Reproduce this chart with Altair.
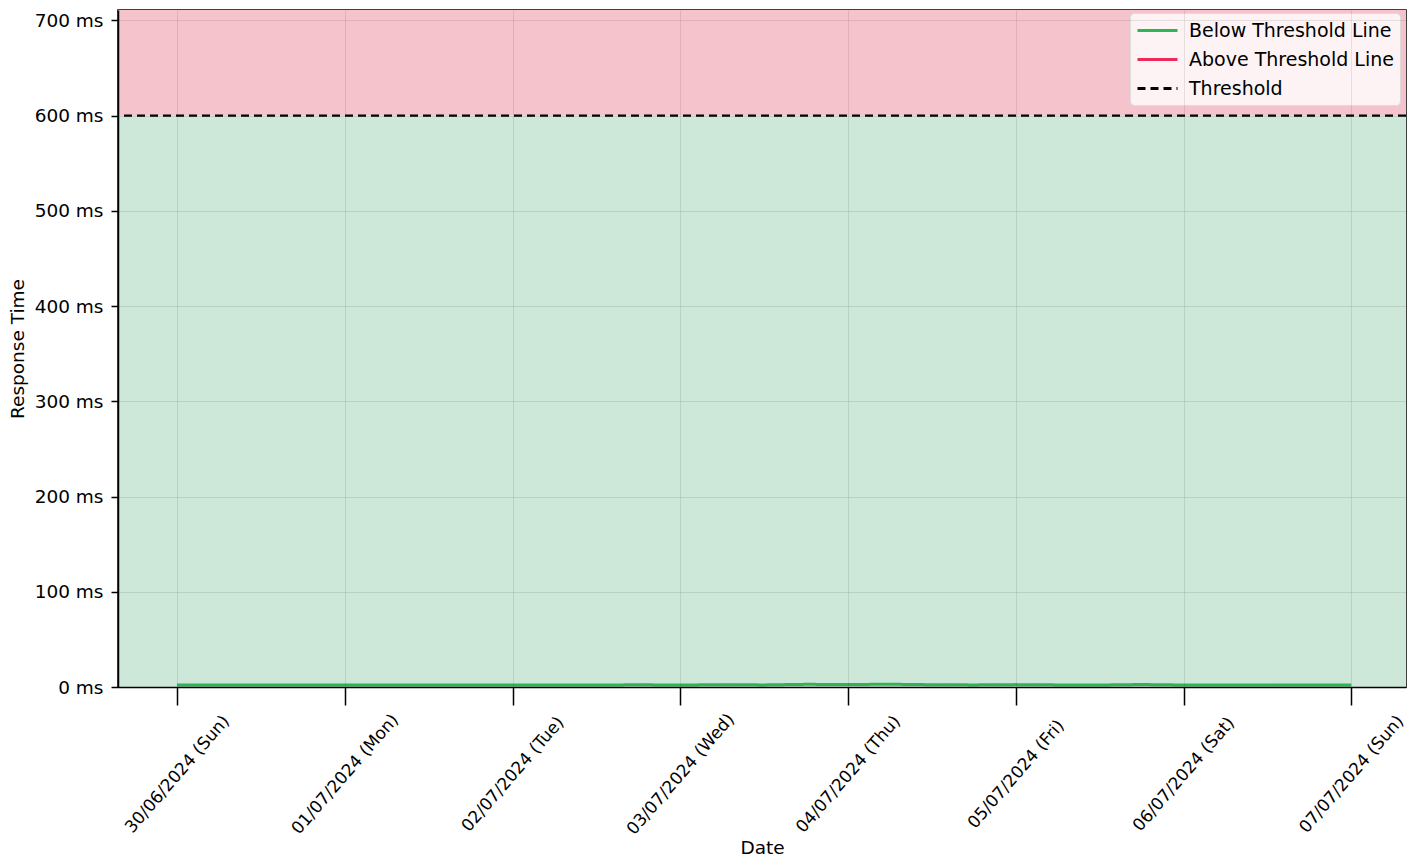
import altair as alt
import pandas as pd

# ---- data ----
times = [
    "2024-06-30T00:00", "2024-06-30T06:00", "2024-06-30T12:00", "2024-06-30T18:00",
    "2024-07-01T00:00", "2024-07-01T06:00", "2024-07-01T12:00", "2024-07-01T18:00",
    "2024-07-02T00:00", "2024-07-02T06:00", "2024-07-02T12:00", "2024-07-02T18:00",
    "2024-07-03T00:00", "2024-07-03T06:00", "2024-07-03T12:00", "2024-07-03T18:00",
    "2024-07-04T00:00", "2024-07-04T06:00", "2024-07-04T12:00", "2024-07-04T18:00",
    "2024-07-05T00:00", "2024-07-05T06:00", "2024-07-05T12:00", "2024-07-05T18:00",
    "2024-07-06T00:00", "2024-07-06T06:00", "2024-07-06T12:00", "2024-07-06T18:00",
    "2024-07-07T00:00",
]
response_ms = [
    2.0, 2.1, 2.0, 2.2,
    2.0, 2.1, 2.0, 2.1,
    2.0, 2.2, 2.1, 2.3,
    2.1, 2.4, 2.2, 2.8,
    2.6, 2.9, 2.4, 2.2,
    2.5, 2.2, 2.1, 2.6,
    2.1, 2.2, 2.0, 2.1,
    2.0,
]
threshold_ms = 600
y_max_ms = 711
y_ticks = [0, 100, 200, 300, 400, 500, 600, 700]
series_names = ["Below Threshold Line", "Above Threshold Line", "Threshold"]
series_colors = ["#2db553", "#ee2a5a", "#000000"]

line_df = pd.DataFrame({"time": times, "ms": response_ms, "series": series_names[0]})
thr_df = pd.DataFrame({"ms": [threshold_ms], "series": [series_names[2]]})
below_df = pd.DataFrame({"lo": [0], "hi": [threshold_ms]})
above_df = pd.DataFrame({"lo": [threshold_ms], "hi": [y_max_ms]})

FONT = "DejaVu Sans"
day_ticks = [alt.DateTime(year=2024, month=6, date=30)] + [
    alt.DateTime(year=2024, month=7, date=d) for d in range(1, 8)
]
x_scale = alt.Scale(domain=[
    alt.DateTime(year=2024, month=6, date=29, hours=15, minutes=33),
    alt.DateTime(year=2024, month=7, date=7, hours=7, minutes=50),
])
y_scale = alt.Scale(domain=[0, y_max_ms], nice=False, zero=False)

color_scale = alt.Scale(domain=series_names, range=series_colors)
dash_scale = alt.Scale(domain=series_names, range=[[1, 0], [1, 0], [8, 5]])

x_axis = alt.Axis(
    values=day_ticks, format="%d/%m/%Y (%a)", labelAngle=-49, labelAlign="center",
    labelBaseline="middle", tickSize=18, labelPadding=69, labelFontSize=17,
    title="Date", titlePadding=1, zindex=1, labelFlush=False, labelOverlap=False,
)
y_axis = alt.Axis(
    values=y_ticks, labelExpr="datum.value + ' ms'", tickSize=7, labelPadding=8,
    title="Response Time", titlePadding=7, zindex=1,
)

below = alt.Chart(below_df).mark_rect(color="#cde7d8", opacity=1).encode(
    y=alt.Y("lo:Q", scale=y_scale, axis=y_axis),
    y2="hi:Q",
)
above = alt.Chart(above_df).mark_rect(color="#f5c3cb", opacity=1).encode(
    y=alt.Y("lo:Q", scale=y_scale),
    y2="hi:Q",
)

legend = alt.Legend(
    title=None, orient="none", legendX=1012, legendY=3, symbolType="M-1,0H3",
    symbolStrokeWidth=3, symbolSize=400, labelFontSize=19, labelFont=FONT,
    labelLimit=0, fillColor="rgba(255,255,255,0.8)", strokeColor="#dddddd",
    cornerRadius=4, padding=6, rowPadding=7, labelOffset=30,
)

line = alt.Chart(line_df).mark_line(strokeWidth=3, clip=True).encode(
    x=alt.X("time:T", scale=x_scale, axis=x_axis),
    y=alt.Y("ms:Q", scale=y_scale),
    color=alt.Color("series:N", scale=color_scale, legend=legend),
    strokeDash=alt.StrokeDash("series:N", scale=dash_scale, legend=legend),
)

rule = alt.Chart(thr_df).mark_rule(strokeWidth=2.2).encode(
    y=alt.Y("ms:Q", scale=y_scale),
    color=alt.Color("series:N", scale=color_scale, legend=legend),
    strokeDash=alt.StrokeDash("series:N", scale=dash_scale, legend=legend),
)

chart = alt.layer(below, above, line, rule).properties(
    width=1288, height=677,
    autosize=alt.AutoSizeParams(type="none"),
    padding={"left": 110, "top": 2, "right": 2, "bottom": 172},
).configure_view(
    stroke="black", strokeWidth=1.5,
).configure_axis(
    labelFont=FONT, titleFont=FONT, labelFontSize=18.5, titleFontSize=18.5,
    titleFontWeight="normal", labelColor="black", titleColor="black",
    domainColor="black", tickColor="black", domainWidth=1.5, tickWidth=1.5,
    gridColor="#000000", gridOpacity=0.09, gridWidth=1,
)

chart.save("out.html", embed_options={"renderer": "svg", "actions": False})
